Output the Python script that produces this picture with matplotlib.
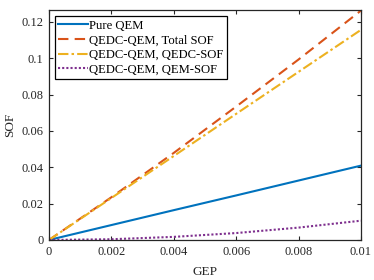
import numpy as np
import matplotlib.pyplot as plt
from matplotlib.ticker import FuncFormatter

# GEP values (x axis)
gep = [0, 0.002, 0.004, 0.006, 0.008, 0.01]

# SOF curves
pure_qem = [0, 0.0082, 0.0164, 0.0245, 0.0327, 0.0409]
qedc_total = [0, 0.0235, 0.0479, 0.0734, 0.0993, 0.1262]
qedc_qedc = [0, 0.0231, 0.0462, 0.0694, 0.0925, 0.1156]
qedc_qem = [0, 0.0004, 0.0017, 0.0038, 0.0068, 0.0106]

plt.rcParams['font.family'] = ['Liberation Serif', 'DejaVu Serif']
plt.rcParams['font.size'] = 9

fig = plt.figure(figsize=(3.74, 2.8), dpi=100)
ax = fig.add_axes([0.131, 0.143, 0.834, 0.821])

ax.plot(gep, pure_qem, color='#0072BD', lw=1.5, ls='-', label='Pure QEM')
ax.plot(gep, qedc_total, color='#D95319', lw=1.5, ls=(0, (5, 3)), label='QEDC-QEM, Total SOF')
ax.plot(gep, qedc_qedc, color='#EDB120', lw=1.5, ls=(0, (5, 1.5, 1.2, 1.5)), label='QEDC-QEM, QEDC-SOF')
ax.plot(gep, qedc_qem, color='#7E2F8E', lw=1.5, ls=(0, (1, 1)), label='QEDC-QEM, QEM-SOF')

ax.set_xlim(0, 0.01)
ax.set_ylim(0, 0.1265)
ax.set_xticks([0, 0.002, 0.004, 0.006, 0.008, 0.01])
ax.set_yticks([0, 0.02, 0.04, 0.06, 0.08, 0.1, 0.12])
fmt = FuncFormatter(lambda v, p: '%g' % v)
ax.xaxis.set_major_formatter(fmt)
ax.yaxis.set_major_formatter(fmt)
ax.tick_params(direction='in', top=True, right=True, length=3, width=0.8,
               colors='#262626', labelsize=9, pad=4)
for s in ax.spines.values():
    s.set_linewidth(0.9)
    s.set_color('#262626')

ax.set_xlabel('GEP', color='#262626', fontsize=9.5, labelpad=6)
ax.set_ylabel('SOF', color='#262626', fontsize=9.5)

leg = ax.legend(loc='upper left', fancybox=False, framealpha=1, edgecolor='black',
                borderaxespad=0.5, handlelength=2.3, handletextpad=0.15,
                labelspacing=0.22, borderpad=0.25, fontsize=9.1)
leg.get_frame().set_linewidth(0.9)

fig.savefig('out.png', dpi=100)
